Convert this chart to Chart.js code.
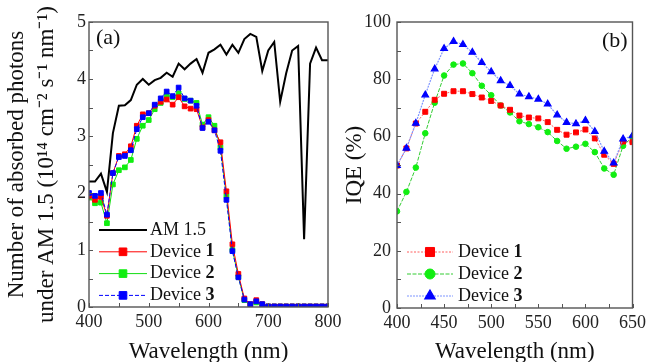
<!DOCTYPE html>
<html>
<head>
<meta charset="utf-8">
<script src="https://cdn.jsdelivr.net/npm/chart.js@4.4.0/dist/chart.umd.min.js"></script>
<style>
  html, body { margin: 0; padding: 0; background: #fff; overflow: hidden; }
  #wrap { position: relative; width: 650px; height: 362px; }
  #chartA { position: absolute; left: 0; top: 0; }
  #chartB { position: absolute; left: 340px; top: 0; }
</style>
</head>
<body>
<div id="wrap">
  <canvas id="chartA" width="350" height="362"></canvas>
  <canvas id="chartB" width="310" height="362"></canvas>
</div>
<script>
// ---- panel (a): absorbed photons under AM 1.5 ----
const waveA = [400, 410, 420, 430, 440, 450, 460, 470, 480, 490, 500, 510, 520, 530, 540, 550, 560, 570, 580, 590,
               600, 610, 620, 630, 640, 650, 660, 670, 680, 690, 700, 710, 720, 730, 740, 750, 760, 770, 780, 790, 800];
const am15 = [2.20, 2.20, 2.34, 2.02, 3.05, 3.53, 3.54, 3.63, 3.90, 4.00, 3.90, 3.98, 4.02, 4.11, 4.04, 4.27, 4.17, 4.27, 4.35, 4.11,
              4.46, 4.52, 4.60, 4.43, 4.60, 4.46, 4.70, 4.79, 4.74, 4.14, 4.50, 4.65, 3.60, 4.10, 4.50, 4.58, 1.19, 4.27, 4.55, 4.33, 4.33];
const absDev1 = [1.95, 1.88, 1.93, 1.60, 2.35, 2.65, 2.68, 2.82, 3.18, 3.38, 3.40, 3.53, 3.60, 3.64, 3.55, 3.68, 3.52, 3.48, 3.47, 3.15,
                 3.28, 3.10, 2.89, 2.03, 1.10, 0.58, 0.15, 0.05, 0.12, 0.05, 0.01, 0.01, 0.01, 0.01, 0.01, 0.01, 0.01, 0.01, 0.01, 0.01, 0.01];
const absDev2 = [1.92, 1.82, 1.83, 1.47, 2.15, 2.40, 2.45, 2.58, 2.95, 3.18, 3.28, 3.47, 3.58, 3.72, 3.68, 3.75, 3.65, 3.62, 3.58, 3.20,
                 3.33, 3.18, 2.80, 1.95, 1.00, 0.53, 0.12, 0.03, 0.08, 0.04, 0.01, 0.01, 0.01, 0.01, 0.01, 0.01, 0.01, 0.01, 0.01, 0.01, 0.01];
const absDev3 = [2.00, 1.95, 2.00, 1.62, 2.35, 2.63, 2.65, 2.75, 3.12, 3.33, 3.40, 3.55, 3.66, 3.78, 3.70, 3.85, 3.66, 3.62, 3.53, 3.14,
                 3.25, 3.10, 2.74, 1.88, 0.98, 0.52, 0.13, 0.05, 0.10, 0.05, 0.01, 0.01, 0.01, 0.01, 0.01, 0.01, 0.01, 0.01, 0.01, 0.01, 0.01];
const xTicksA = [400, 500, 600, 700, 800];
const yTicksA = [0, 1, 2, 3, 4, 5];
const legendA = ['AM 1.5', 'Device 1', 'Device 2', 'Device 3'];

// ---- panel (b): IQE ----
const waveB = [400, 410, 420, 430, 440, 450, 460, 470, 480, 490, 500, 510, 520, 530, 540, 550, 560, 570, 580, 590, 600, 610, 620, 630, 640, 650];
const iqeDev1 = [49.8, 55.8, 64.5, 68.6, 72.8, 74.9, 75.8, 75.8, 74.8, 73.6, 72.4, 70.8, 69.3, 67.3, 66.6, 66.3, 65.0, 62.3, 60.6, 61.4, 62.4, 59.3, 53.6, 50.4, 58.2, 58.0];
const iqeDev2 = [33.8, 40.6, 49.1, 61.1, 71.8, 81.3, 85.1, 85.5, 82.1, 77.7, 74.4, 70.8, 68.4, 65.3, 64.3, 63.2, 61.5, 58.4, 55.7, 56.4, 57.4, 54.5, 48.8, 46.6, 56.7, 59.8];
const iqeDev3 = [49.8, 55.9, 64.6, 74.5, 83.6, 90.7, 93.2, 92.1, 89.4, 85.8, 82.6, 79.5, 77.8, 74.8, 73.9, 73.0, 71.3, 67.5, 64.9, 64.4, 65.6, 61.7, 54.8, 50.7, 59.1, 60.2];
const xTicksB = [400, 450, 500, 550, 600, 650];
const yTicksB = [0, 20, 40, 60, 80, 100];
const legendB = ['Device 1', 'Device 2', 'Device 3'];

const serif = "'Liberation Serif', 'Times New Roman', serif";
const pts = (xs, ys) => xs.map((x, i) => ({x: x, y: ys[i]}));

// box frame + inward ticks on left and bottom
const frameTicks = {
    id: 'frameTicks',
    afterDraw(chart, args, opts) {
        const {ctx, chartArea: a} = chart;
        const sx = chart.scales.x, sy = chart.scales.y;
        ctx.save();
        ctx.strokeStyle = '#555';
        ctx.lineWidth = 1.4;
        ctx.strokeRect(a.left, a.top, a.right - a.left, a.bottom - a.top);
        ctx.lineWidth = 1;
        ctx.beginPath();
        for (let v = sx.min; v <= sx.max + 1e-9; v += opts.xMinor) {
            const p = Math.round(sx.getPixelForValue(v)) + 0.5;
            ctx.moveTo(p, a.bottom);
            ctx.lineTo(p, a.bottom - 4);
        }
        for (let v = sy.min; v <= sy.max + 1e-9; v += opts.yMinor) {
            const p = Math.round(sy.getPixelForValue(v)) + 0.5;
            ctx.moveTo(a.left, p);
            ctx.lineTo(a.left + 4, p);
        }
        ctx.stroke();
        ctx.restore();
    }
};

// legend drawn inside the plot (line sample + marker), plus the panel tag
const sampleLegend = {
    id: 'sampleLegend',
    afterDatasetsDraw(chart, args, opts) {
        const ctx = chart.ctx;
        ctx.save();
        opts.names.forEach((name, i) => {
            const ds = chart.data.datasets[i];
            const y = opts.y + i * opts.dy;
            ctx.strokeStyle = ds.borderColor;
            ctx.lineWidth = ds.borderWidth;
            ctx.setLineDash(ds.borderDash || []);
            ctx.beginPath();
            ctx.moveTo(opts.x0, y);
            ctx.lineTo(opts.x1, y);
            ctx.stroke();
            ctx.setLineDash([]);
            if (ds.pointRadius > 0) {
                ctx.fillStyle = ds.pointBackgroundColor;
                ctx.strokeStyle = ds.pointBackgroundColor;
                Chart.helpers.drawPoint(ctx, {pointStyle: ds.pointStyle, radius: opts.r[i], borderWidth: 1, rotation: 0},
                    (opts.x0 + opts.x1) / 2, y);
            }
            ctx.fillStyle = '#111';
            ctx.textBaseline = 'middle';
            ctx.textAlign = 'left';
            ctx.font = '18px ' + serif;
            const parts = name.match(/^(Device )(\d)$/);
            if (parts) {
                ctx.fillText(parts[1], opts.tx, y);
                const w = ctx.measureText(parts[1]).width;
                ctx.font = 'bold 18px ' + serif;
                ctx.fillText(parts[2], opts.tx + w, y);
            } else {
                ctx.fillText(name, opts.tx, y);
            }
        });
        ctx.fillStyle = '#111';
        ctx.font = '22px ' + serif;
        ctx.textBaseline = 'middle';
        ctx.textAlign = 'left';
        ctx.fillText(opts.tag, opts.tagX, opts.tagY);
        ctx.restore();
    }
};

function axisX(ticks, width, titlePad) {
    return {
        type: 'linear', min: ticks[0], max: ticks[ticks.length - 1],
        afterBuildTicks: s => { s.ticks = ticks.map(v => ({value: v})); },
        afterFit: s => { s.height = width; },
        grid: {display: false, drawTicks: false},
        border: {display: false},
        ticks: {color: '#222', padding: 4, maxRotation: 0, font: {family: serif, size: 18}},
        title: {display: true, text: 'Wavelength (nm)', color: '#111', padding: {top: 0, bottom: titlePad},
                font: {family: serif, size: 23, lineHeight: 0.87}}
    };
}

function axisY(ticks, width, pad, title, lineH, titleTop) {
    return {
        type: 'linear', min: ticks[0], max: ticks[ticks.length - 1],
        afterBuildTicks: s => { s.ticks = ticks.map(v => ({value: v})); },
        afterFit: s => { s.width = width; },
        grid: {display: false, drawTicks: false},
        border: {display: false},
        ticks: {color: '#222', padding: pad, font: {family: serif, size: 18}},
        title: {display: true, text: title, color: '#111', padding: {top: titleTop, bottom: 0},
                font: {family: serif, size: 23, lineHeight: lineH}}
    };
}

// Create panel (a)
new Chart(document.getElementById('chartA').getContext('2d'), {
    type: 'line',
    data: {
        datasets: [
            {label: 'AM 1.5', data: pts(waveA, am15), borderColor: '#000', borderWidth: 2, pointRadius: 0, order: 0},
            {label: 'Device 1', data: pts(waveA, absDev1), borderColor: '#ff0000', borderWidth: 1,
             pointStyle: 'rect', pointRadius: 3.3, pointBackgroundColor: '#ff0000', pointBorderColor: '#ff0000', order: 2},
            {label: 'Device 2', data: pts(waveA, absDev2), borderColor: '#11dd11', borderWidth: 1,
             pointStyle: 'rect', pointRadius: 3.3, pointBackgroundColor: '#11ee11', pointBorderColor: '#11ee11', order: 3},
            {label: 'Device 3', data: pts(waveA, absDev3), borderColor: '#0000ff', borderWidth: 1, borderDash: [4, 2],
             pointStyle: 'rect', pointRadius: 3.3, pointBackgroundColor: '#0000ff', pointBorderColor: '#0000ff', order: 1}
        ]
    },
    options: {
        responsive: false,
        animation: false,
        layout: {padding: {left: 0, right: 22, top: 22, bottom: 0}},
        scales: {
            x: axisX(xTicksA, 55, 0),
            y: axisY(yTicksA, 89, 3, ['Number of absorbed photons', 'under AM 1.5 (10¹⁴ cm⁻² s⁻¹ nm⁻¹)'], 1.304, 2)
        },
        plugins: {
            legend: {display: false},
            tooltip: {enabled: false},
            frameTicks: {xMinor: 50, yMinor: 0.5},
            sampleLegend: {names: legendA, x0: 99, x1: 147, tx: 150, y: 230, dy: 21.8, r: [0, 5.4, 5.4, 5.4],
                           tag: '(a)', tagX: 96, tagY: 38}
        }
    },
    plugins: [frameTicks, sampleLegend]
});

// Create panel (b)
new Chart(document.getElementById('chartB').getContext('2d'), {
    type: 'line',
    data: {
        datasets: [
            {label: 'Device 1', data: pts(waveB, iqeDev1), borderColor: 'rgba(255,40,40,0.75)', borderWidth: 1, borderDash: [2, 1.5],
             pointStyle: 'rect', pointRadius: 3.5, pointBackgroundColor: '#ff0000', pointBorderColor: '#ff0000', order: 2},
            {label: 'Device 2', data: pts(waveB, iqeDev2), borderColor: '#33cc33', borderWidth: 1, borderDash: [4, 1.5],
             pointStyle: 'circle', pointRadius: 2.8, pointBackgroundColor: '#11ee11', pointBorderColor: '#11ee11', order: 3},
            {label: 'Device 3', data: pts(waveB, iqeDev3), borderColor: '#7f95ff', borderWidth: 1.2, borderDash: [2, 1],
             pointStyle: 'triangle', pointRadius: 3.8, pointBackgroundColor: '#0000ff', pointBorderColor: '#0000ff', order: 1}
        ]
    },
    options: {
        responsive: false,
        animation: false,
        layout: {padding: {left: 0, right: 14, top: 22, bottom: 0}},
        scales: {
            x: axisX(xTicksB, 54, 0),
            y: axisY(yTicksB, 57, 6, 'IQE (%)', 1.2, 1)
        },
        plugins: {
            legend: {display: false},
            tooltip: {enabled: false},
            frameTicks: {xMinor: 25, yMinor: 10},
            sampleLegend: {names: legendB, x0: 67, x1: 113, tx: 118, y: 252, dy: 22, r: [6.4, 5, 6],
                           tag: '(b)', tagX: 262, tagY: 41}
        }
    },
    plugins: [frameTicks, sampleLegend]
});
</script>
</body>
</html>
